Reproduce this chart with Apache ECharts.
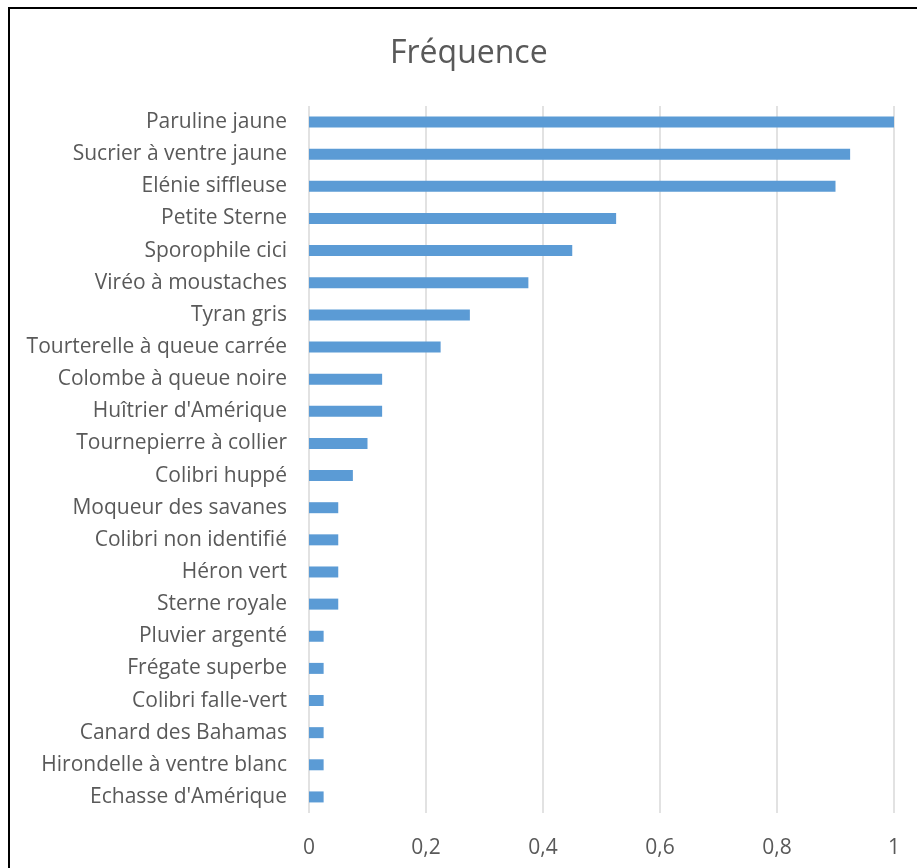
<!DOCTYPE html>
<html><head><meta charset="utf-8">
<script src="https://cdn.jsdelivr.net/npm/echarts@6/dist/echarts.min.js"></script>
<style>
html,body{margin:0;padding:0;background:#fff;}
#c{width:917px;height:868px;position:absolute;left:0;top:0;}
#frame{position:absolute;left:8px;top:7px;width:1000px;height:1000px;border:2px solid #000;pointer-events:none;}
</style></head>
<body>
<div id="c"></div>
<div id="frame"></div>
<script>
const categories = ["Paruline jaune","Sucrier à ventre jaune","Elénie siffleuse","Petite Sterne","Sporophile cici","Viréo à moustaches","Tyran gris","Tourterelle à queue carrée","Colombe à queue noire","Huîtrier d'Amérique","Tournepierre à collier","Colibri huppé","Moqueur des savanes","Colibri non identifié","Héron vert","Sterne royale","Pluvier argenté","Frégate superbe","Colibri falle-vert","Canard des Bahamas","Hirondelle à ventre blanc","Echasse d'Amérique"];
const values = [1,0.925,0.9,0.525,0.45,0.375,0.275,0.225,0.125,0.125,0.1,0.075,0.05,0.05,0.05,0.05,0.025,0.025,0.025,0.025,0.025,0.025];
const titleText = "Fréquence";
const chart = echarts.init(document.getElementById('c'));
chart.setOption({
  animation:false,
  title:{text:titleText,left:385,top:33,textStyle:{fontFamily:'Open Sans',fontSize:32,fontWeight:'normal',color:'#595959'}},
  grid:{left:309,right:23,top:106,bottom:55,containLabel:false},
  xAxis:{type:'value',min:0,max:1,interval:0.2,
    axisLine:{show:false},axisTick:{show:false},
    splitLine:{lineStyle:{color:'#d9d9d9',width:1.5}},
    axisLabel:{margin:25,fontFamily:'Open Sans',fontSize:21,color:'#595959',formatter:v=>String(Math.round(v*10)/10).replace('.',',')}},
  yAxis:{type:'category',data:categories,inverse:true,
    axisLine:{show:false},axisTick:{show:false},
    axisLabel:{margin:22,fontFamily:'Open Sans',fontSize:21,color:'#595959'}},
  series:[{type:'bar',data:values,barWidth:11,itemStyle:{color:'#5B9BD5'}}]
});
</script>
</body></html>
